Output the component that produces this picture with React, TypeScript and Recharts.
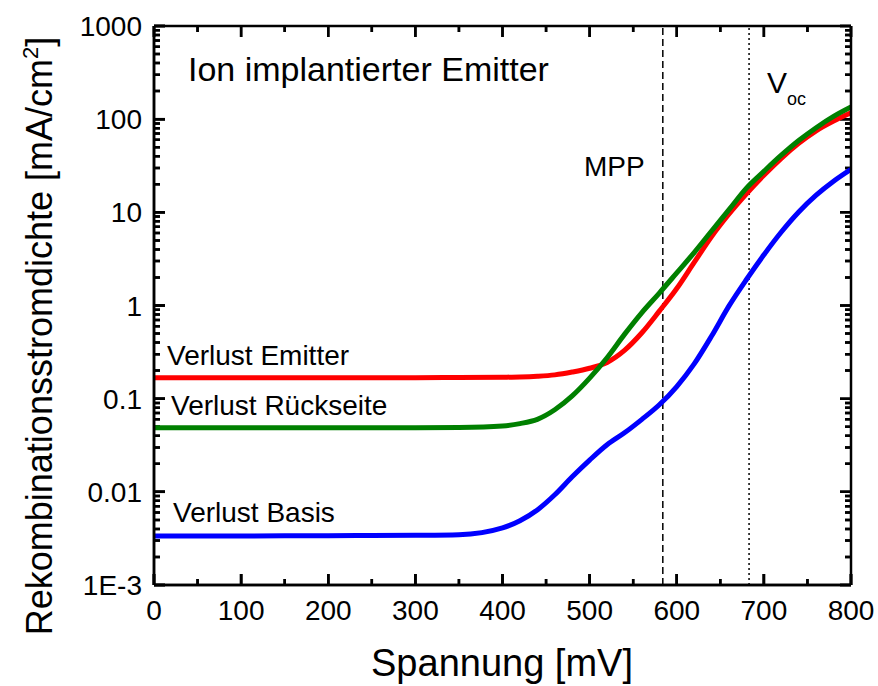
import React from "react";
import { LineChart, Line, XAxis, YAxis, ReferenceLine, CartesianGrid } from "recharts";

// Spannung in mV
const voltage = [
  0, 50, 100, 150, 200, 250, 300, 350, 400, 420, 440, 460, 480, 500, 520, 540,
  560, 580, 600, 620, 640, 660, 680, 700, 720, 740, 760, 780, 800,
];

// Rekombinationsstromdichte in mA/cm2
const verlustEmitter = [
  0.168, 0.168, 0.168, 0.168, 0.168, 0.168, 0.168, 0.169, 0.17, 0.171, 0.174,
  0.18, 0.193, 0.212, 0.245, 0.33, 0.51, 0.87, 1.52, 2.9, 5.5, 9.6, 15.8, 25,
  38, 55, 75, 95.5, 117,
];
const verlustRueckseite = [
  0.0486, 0.0486, 0.0486, 0.0486, 0.0486, 0.0486, 0.0486, 0.049, 0.051, 0.054,
  0.06, 0.076, 0.107, 0.166, 0.275, 0.49, 0.84, 1.36, 2.24, 3.7, 6.3, 10.7,
  18.2, 27.5, 41, 59, 81, 107, 135,
];
const verlustBasis = [
  0.00335, 0.00335, 0.00336, 0.00337, 0.00338, 0.0034, 0.00342, 0.00347,
  0.0041, 0.0049, 0.0064, 0.0093, 0.0145, 0.0219, 0.032, 0.043, 0.06, 0.086,
  0.135, 0.236, 0.47, 0.99, 1.9, 3.5, 6.15, 10.1, 15.3, 21.6, 29,
];

const mpp = 584;
const voc = 683;

const xMajor = [0, 100, 200, 300, 400, 500, 600, 700, 800];
const xMinor = [50, 150, 250, 350, 450, 550, 650, 750];
const decades = [0.001, 0.01, 0.1, 1, 10, 100, 1000];
const decadeLabels = ["1E-3", "0.01", "0.1", "1", "10", "100", "1000"];

// 2..9 minors per decade
const yMinor: number[] = [];
decades.slice(0, -1).forEach((d) => {
  for (let m = 2; m <= 9; m++) yMinor.push(+(d * m).toPrecision(3));
});

const data = voltage.map((v, i) => ({
  v,
  emitter: verlustEmitter[i],
  rueck: verlustRueckseite[i],
  basis: verlustBasis[i],
}));

const font = "'Liberation Sans', Arial, sans-serif";

// chart box
const W = 878;
const H = 686;
const M = { top: 26, right: 27, bottom: 1, left: 0 };
const Y_AXIS_W = 154;
const X_AXIS_H = 100;
const PLOT_W = W - M.left - M.right - Y_AXIS_W;
const PLOT_H = H - M.top - M.bottom - X_AXIS_H;

const MAJOR = 11;
const MINOR = 6;
const TICK_W = 2.5;

// dash only at both ends of a full-span line -> inward tick marks on both sides
const endDash = (span: number, len: number) => `${len} ${span - 2 * len} ${len} ${len}`;

const decadeIndex = (v: number) => decades.findIndex((d) => Math.abs(d - v) < d * 1e-6);

const xt = (t: number) => (
  <ReferenceLine
    x={t}
    stroke="#000"
    strokeWidth={TICK_W}
    strokeDasharray={endDash(PLOT_H, t % 100 === 0 ? MAJOR : MINOR)}
  />
);
const yt = (t: number) => (
  <ReferenceLine
    y={t}
    stroke="#000"
    strokeWidth={TICK_W}
    strokeDasharray={endDash(PLOT_W, decadeIndex(t) >= 0 ? MAJOR : MINOR)}
  />
);

const BottomLabel = (props: any) => {
  const { x, y, payload } = props;
  return (
    <text x={x} y={y + 35} textAnchor="middle" fontSize={28} fontFamily={font} fill="#000">
      {payload.value}
    </text>
  );
};

const LeftLabel = (props: any) => {
  const { x, y, payload } = props;
  const idx = decadeIndex(payload.value);
  return (
    <text x={x - 12} y={y + 10} textAnchor="end" fontSize={28} fontFamily={font} fill="#000">
      {decadeLabels[idx]}
    </text>
  );
};

const axisStroke = { stroke: "#000", strokeWidth: TICK_W };

export default function App() {
  return (
    <div style={{ position: "absolute", left: 0, top: 0, width: W, height: H, background: "#fff" }}>
      <LineChart width={W} height={H} data={data} margin={M}>
        <XAxis
          dataKey="v"
          type="number"
          domain={[0, 800]}
          allowDataOverflow
          ticks={xMajor}
          interval={0}
          height={X_AXIS_H}
          tickSize={-MAJOR}
          tickMargin={MAJOR}
          tickLine={axisStroke}
          axisLine={axisStroke}
          tick={BottomLabel}
        />
        <YAxis
          type="number"
          scale="log"
          domain={[0.001, 1000]}
          allowDataOverflow
          ticks={decades}
          interval={0}
          width={Y_AXIS_W}
          tickSize={-MAJOR}
          tickMargin={MAJOR}
          tickLine={axisStroke}
          axisLine={axisStroke}
          tick={LeftLabel}
        />
        {/* inward tick marks as end-dashed grid lines */}
        <CartesianGrid
          horizontal={false}
          verticalValues={xMajor}
          stroke="#000"
          strokeWidth={TICK_W}
          strokeDasharray={endDash(PLOT_H, MAJOR)}
        />
        <CartesianGrid
          horizontal={false}
          verticalValues={xMinor}
          stroke="#000"
          strokeWidth={TICK_W}
          strokeDasharray={endDash(PLOT_H, MINOR)}
        />
        <CartesianGrid
          vertical={false}
          horizontalValues={decades}
          stroke="#000"
          strokeWidth={TICK_W}
          strokeDasharray={endDash(PLOT_W, MAJOR)}
        />
        <CartesianGrid
          vertical={false}
          horizontalValues={yMinor}
          stroke="#000"
          strokeWidth={TICK_W}
          strokeDasharray={endDash(PLOT_W, MINOR)}
        />
        {/* same tick marks as single reference lines */}
        {xt(0)}{xt(50)}{xt(100)}{xt(150)}{xt(200)}{xt(250)}{xt(300)}{xt(350)}{xt(400)}
        {xt(450)}{xt(500)}{xt(550)}{xt(600)}{xt(650)}{xt(700)}{xt(750)}{xt(800)}
        {yt(0.001)}{yt(0.002)}{yt(0.003)}{yt(0.004)}{yt(0.005)}{yt(0.006)}{yt(0.007)}{yt(0.008)}{yt(0.009)}
        {yt(0.01)}{yt(0.02)}{yt(0.03)}{yt(0.04)}{yt(0.05)}{yt(0.06)}{yt(0.07)}{yt(0.08)}{yt(0.09)}
        {yt(0.1)}{yt(0.2)}{yt(0.3)}{yt(0.4)}{yt(0.5)}{yt(0.6)}{yt(0.7)}{yt(0.8)}{yt(0.9)}
        {yt(1)}{yt(2)}{yt(3)}{yt(4)}{yt(5)}{yt(6)}{yt(7)}{yt(8)}{yt(9)}
        {yt(10)}{yt(20)}{yt(30)}{yt(40)}{yt(50)}{yt(60)}{yt(70)}{yt(80)}{yt(90)}
        {yt(100)}{yt(200)}{yt(300)}{yt(400)}{yt(500)}{yt(600)}{yt(700)}{yt(800)}{yt(900)}
        {yt(1000)}
        <ReferenceLine x={mpp} stroke="#000" strokeWidth={1.5} strokeDasharray="7 4" />
        <ReferenceLine x={voc} stroke="#000" strokeWidth={1.5} strokeDasharray="2 3" />
        <Line
          dataKey="emitter"
          type="monotone"
          stroke="#ff0000"
          strokeWidth={5}
          dot={false}
          isAnimationActive={false}
        />
        <Line
          dataKey="rueck"
          type="monotone"
          stroke="#008000"
          strokeWidth={5}
          dot={false}
          isAnimationActive={false}
        />
        <Line
          dataKey="basis"
          type="monotone"
          stroke="#0000ff"
          strokeWidth={5}
          dot={false}
          isAnimationActive={false}
        />
        {/* frame */}
        <ReferenceLine x={0} stroke="#000" strokeWidth={2.5} />
        <ReferenceLine x={800} stroke="#000" strokeWidth={2.5} />
        <ReferenceLine y={0.001} stroke="#000" strokeWidth={2.5} />
        <ReferenceLine y={1000} stroke="#000" strokeWidth={2.5} />
      </LineChart>
      <svg
        width={W}
        height={H}
        style={{ position: "absolute", left: 0, top: 0, pointerEvents: "none" }}
        fontFamily={font}
        fill="#000"
      >
        <text transform="translate(52,336) rotate(-90)" textAnchor="middle" fontSize={36}>
          Rekombinationsstromdichte [mA/cm
          <tspan dy={-14} fontSize={22}>2</tspan>
          <tspan dy={14}>]</tspan>
        </text>
        <text x={502} y={676} textAnchor="middle" fontSize={38}>
          Spannung [mV]
        </text>
        <text x={188} y={81} fontSize={34}>Ion implantierter Emitter</text>
        <text x={584} y={176} fontSize={28}>MPP</text>
        <text x={767} y={93} fontSize={30}>
          V<tspan fontSize={18} dy={12}>oc</tspan>
        </text>
        <text x={167} y={365} fontSize={28}>Verlust Emitter</text>
        <text x={171} y={415} fontSize={28}>Verlust Rückseite</text>
        <text x={173} y={522} fontSize={28}>Verlust Basis</text>
      </svg>
    </div>
  );
}
